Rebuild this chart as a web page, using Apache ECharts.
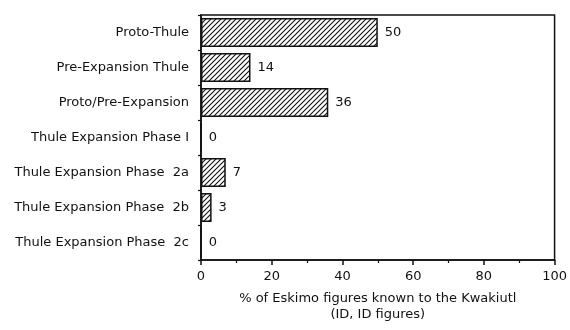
<!DOCTYPE html>
<html>
<head>
<meta charset="utf-8">
<script src="https://cdn.jsdelivr.net/npm/echarts@6/dist/echarts.min.js"></script>
<style>
  html, body { margin: 0; padding: 0; background: #fff; }
  #chart { width: 570px; height: 330px; }
</style>
</head>
<body>
<div id="chart"></div>
<script>
const categories = [
  'Proto-Thule',
  'Pre-Expansion Thule',
  'Proto/Pre-Expansion',
  'Thule Expansion Phase I',
  'Thule Expansion Phase  2a',
  'Thule Expansion Phase  2b',
  'Thule Expansion Phase  2c'
]
const values = [50, 14, 36, 0, 7, 3, 0]
const xTicks = [0, 20, 40, 60, 80, 100]

// diagonal hatch fill
function hatch() {
  const c = document.createElement('canvas')
  c.width = 5
  c.height = 5
  const ctx = c.getContext('2d')
  ctx.fillStyle = '#fff'
  ctx.fillRect(0, 0, 5, 5)
  ctx.strokeStyle = '#111'
  ctx.lineWidth = 1.1
  ctx.beginPath()
  ctx.moveTo(-1, 6); ctx.lineTo(6, -1)
  ctx.moveTo(-1, 1); ctx.lineTo(1, -1)
  ctx.moveTo(4, 6); ctx.lineTo(6, 4)
  ctx.stroke()
  return c
}

const font = '"DejaVu Sans", "Liberation Sans", Arial, sans-serif'
const chart = echarts.init(document.getElementById('chart'))
chart.setOption({
  animation: false,
  textStyle: { fontFamily: font, color: '#111' },
  grid: {
    left: 201, right: 14, top: 15, bottom: 70,
    show: true, borderColor: '#111', borderWidth: 1.5, backgroundColor: 'transparent'
  },
  xAxis: {
    type: 'value',
    min: 0, max: 100, interval: 20,
    splitLine: { show: false },
    axisLine: { show: true, lineStyle: { color: '#111', width: 1.5 } },
    axisTick: { show: true, length: 5, lineStyle: { color: '#111', width: 1.5 } },
    minorTick: { show: true, splitNumber: 2, length: 3, lineStyle: { color: '#111', width: 1.2 } },
    axisLabel: {
      color: '#111', fontSize: 13, margin: 10,
      formatter: v => (xTicks.includes(v) ? String(v) : '')
    },
    name: '% of Eskimo figures known to the Kwakiutl\n(ID, ID figures)',
    nameLocation: 'middle',
    nameGap: 31,
    nameTextStyle: { color: '#111', fontSize: 13, lineHeight: 16, verticalAlign: 'top' }
  },
  yAxis: {
    type: 'category',
    inverse: true,
    data: categories,
    axisLine: { show: true, lineStyle: { color: '#111', width: 1.5 } },
    axisTick: { show: true, length: 3, lineStyle: { color: '#111', width: 1.2 } },
    axisLabel: { color: '#111', fontSize: 13, margin: 12 }
  },
  series: [{
    type: 'bar',
    data: values,
    barWidth: 29,
    itemStyle: {
      color: { image: hatch(), repeat: 'repeat' },
      borderColor: '#111',
      borderWidth: 1.5
    },
    label: {
      show: true,
      position: 'right',
      distance: 7,
      color: '#111',
      fontSize: 13,
      fontFamily: font
    }
  }]
})
</script>
</body>
</html>
